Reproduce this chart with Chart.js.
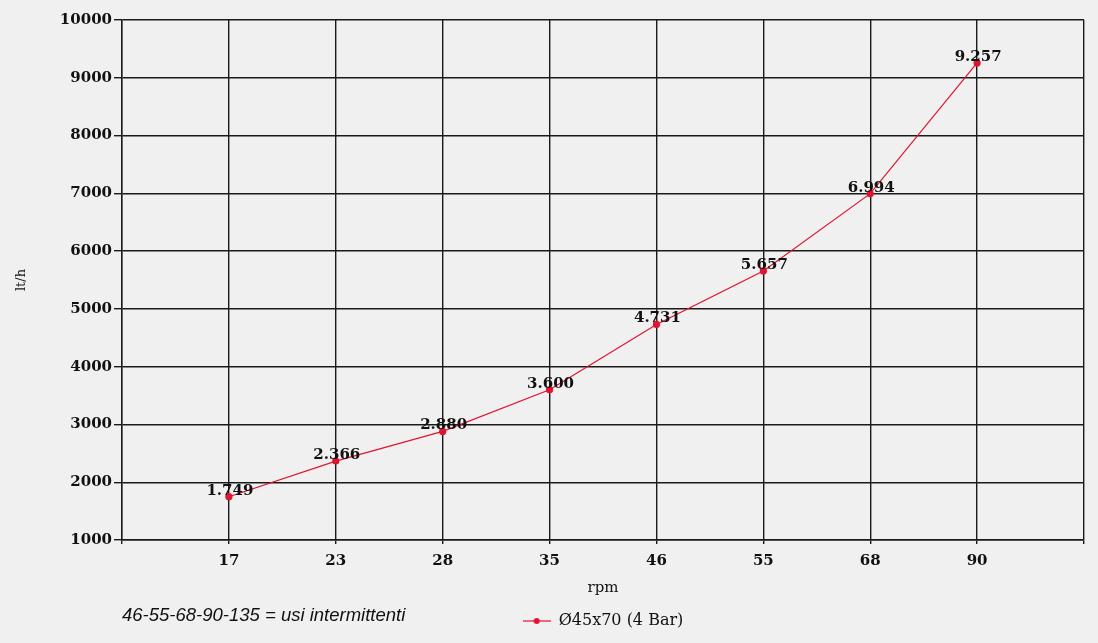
<!DOCTYPE html>
<html>
<head>
<meta charset="utf-8">
<script src="https://cdn.jsdelivr.net/npm/chart.js@4.4.1/dist/chart.umd.min.js"></script>
<style>
  body { margin: 0; background: #f0f0f0; }
  #wrap { position: relative; width: 1098px; height: 643px; }
  #note {
    position: absolute; left: 122px; top: 604px;
    font: italic 18.5px "Liberation Sans", Arial, sans-serif; color: #111;
  }
</style>
</head>
<body>
<div id="wrap">
  <canvas id="chart" width="1098" height="643"></canvas>
  <div id="note">46-55-68-90-135 = usi intermittenti</div>
</div>
<script>
// Data
const rpm = [17, 23, 28, 35, 46, 55, 68, 90];
const flow = [1749, 2366, 2880, 3600, 4731, 5657, 6994, 9257];
const seriesName = "Ø45x70 (4 Bar)";
const yTicks = [1000, 2000, 3000, 4000, 5000, 6000, 7000, 8000, 9000, 10000];

const red = "#e3122f";
const serif = "'DejaVu Serif', 'Liberation Serif', serif";

// empty slot on each side so the grid has a cell before 17 and after 90
const labels = ["", ...rpm.map(String), ""];
const values = [null, ...flow, null];

// legend marker: short line with a dot in the middle
const marker = document.createElement("canvas");
marker.width = 28;
marker.height = 10;
const mctx = marker.getContext("2d");
mctx.strokeStyle = red;
mctx.lineWidth = 1.2;
mctx.beginPath();
mctx.moveTo(0, 5);
mctx.lineTo(28, 5);
mctx.stroke();
mctx.fillStyle = red;
mctx.beginPath();
mctx.arc(14, 5, 3, 0, Math.PI * 2);
mctx.fill();

// value labels above each point, with dot as thousands separator
const valueLabels = {
    id: "valueLabels",
    afterDatasetsDraw(chart) {
        const ctx = chart.ctx;
        const meta = chart.getDatasetMeta(0);
        ctx.save();
        ctx.font = "bold 15px " + serif;
        ctx.fillStyle = "#111";
        ctx.textAlign = "center";
        ctx.textBaseline = "alphabetic";
        meta.data.forEach((pt, i) => {
            const v = values[i];
            if (v == null) return;
            const txt = v.toLocaleString("de-DE");
            ctx.fillText(txt, pt.x + 1, pt.y - 2);
        });
        ctx.restore();
    }
};

// center the legend over the plot area instead of the whole canvas
const legendOverArea = {
    id: "legendOverArea",
    afterLayout(chart) {
        const lg = chart.legend;
        if (!lg) return;
        const w = lg.right - lg.left;
        const c = (chart.chartArea.left + chart.chartArea.right) / 2;
        lg.left = c - w / 2;
        lg.right = c + w / 2;
    }
};

new Chart(document.getElementById("chart"), {
    type: "line",
    data: {
        labels: labels,
        datasets: [{
            label: seriesName,
            data: values,
            borderColor: red,
            backgroundColor: red,
            borderWidth: 1.2,
            pointRadius: 3,
            pointBackgroundColor: red,
            pointBorderColor: red,
            pointStyle: "circle",
            tension: 0,
            spanGaps: false
        }]
    },
    options: {
        responsive: false,
        animation: false,
        layout: { padding: { left: 0, right: 14, top: 20, bottom: 4 } },
        plugins: {
            tooltip: { enabled: false },
            legend: {
                position: "bottom",
                labels: {
                    usePointStyle: true,
                    pointStyle: marker,
                    pointStyleWidth: 28,
                    color: "#111",
                    font: { family: serif, size: 16 },
                    padding: 8
                }
            }
        },
        scales: {
            x: {
                type: "category",
                offset: false,
                grid: { color: "#1a1a1a", lineWidth: 1.4, tickLength: 4 },
                border: { color: "#1a1a1a", width: 1.4 },
                ticks: {
                    color: "#111",
                    font: { family: serif, size: 15, weight: "bold" },
                    padding: 8,
                    maxRotation: 0,
                    autoSkip: false
                },
                title: {
                    display: true,
                    text: "rpm",
                    color: "#111",
                    font: { family: serif, size: 15 },
                    padding: { top: 6, bottom: 8 }
                },
                afterFit(scale) { scale.height = 65; }
            },
            y: {
                min: 1000,
                max: 10000,
                afterBuildTicks(scale) { scale.ticks = yTicks.map(v => ({ value: v })); },
                grid: { color: "#1a1a1a", lineWidth: 1.4, tickLength: 8 },
                border: { color: "#1a1a1a", width: 1.4 },
                ticks: {
                    color: "#111",
                    font: { family: serif, size: 15, weight: "bold" },
                    padding: 2,
                    callback: v => String(v)
                },
                title: {
                    display: true,
                    text: "lt/h",
                    color: "#111",
                    font: { family: serif, size: 13 },
                    padding: { top: 14, bottom: 0 }
                },
                afterFit(scale) { scale.width = 122; }
            }
        }
    },
    plugins: [valueLabels, legendOverArea]
});
</script>
</body>
</html>
